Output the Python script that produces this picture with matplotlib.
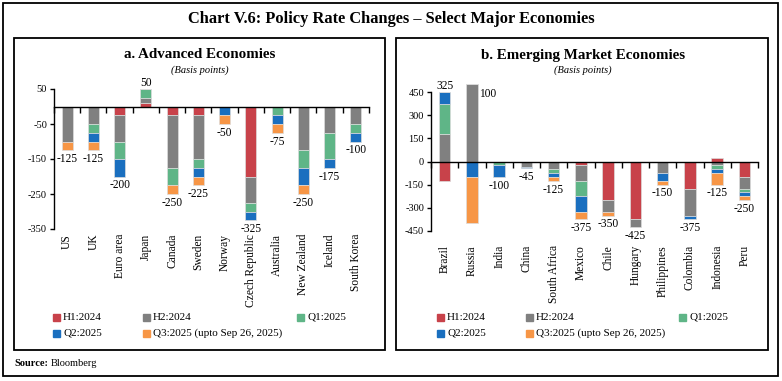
import numpy as np
import matplotlib
matplotlib.use("Agg")
import matplotlib.pyplot as plt
from matplotlib.patches import Rectangle

plt.rcParams['font.family'] = ['Liberation Serif', 'DejaVu Serif']

# ---------------- data ----------------
series_names = ['H1:2024', 'H2:2024', 'Q1:2025', 'Q2:2025', 'Q3:2025 (upto Sep 26, 2025)']
series_colors = ['#C8424A', '#808080', '#5FB587', '#1A6FBF', '#F79646']

adv_countries = ['US', 'UK', 'Euro area', 'Japan', 'Canada', 'Sweden', 'Norway',
                 'Czech Republic', 'Australia', 'New Zealand', 'Iceland', 'South Korea']
adv_h1 = [0, 0, -25, 10, -25, -25, 0, -200, 0, 0, 0, 0]
adv_h2 = [-100, -50, -75, 15, -150, -125, 0, -75, 0, -125, -75, -50]
adv_q1 = [0, -25, -50, 25, -50, -25, 0, -25, -25, -50, -75, -25]
adv_q2 = [0, -25, -50, 0, 0, -25, -25, -25, -25, -50, -25, -25]
adv_q3 = [-25, -25, 0, 0, -25, -25, -25, 0, -25, -25, 0, 0]
adv_yticks = [50, -50, -150, -250, -350]

em_countries = ['Brazil', 'Russia', 'India', 'China', 'South Africa', 'Mexico', 'Chile',
                'Hungary', 'Philippines', 'Colombia', 'Indonesia', 'Peru']
em_h1 = [-125, 0, 0, 0, 0, -25, -250, -375, 0, -175, 25, -100]
em_h2 = [175, 500, 0, -35, -50, -100, -75, -50, -75, -175, -25, -75]
em_q1 = [200, 0, -25, 0, -25, -100, 0, 0, 0, 0, -25, -25]
em_q2 = [75, -100, -75, -10, -25, -100, 0, 0, -50, -25, -25, -25]
em_q3 = [0, -300, 0, 0, -25, -50, -25, 0, -25, 0, -75, -25]
em_yticks = [450, 300, 150, 0, -150, -300, -450]

side_label = {'Russia'}

# ---------------- figure ----------------
W, H = 782, 381
fig = plt.figure(figsize=(W / 100, H / 100), dpi=100)


def fx(px):
    return px / W


def fy(py):
    return 1 - py / H


def frect(x0, y0, x1, y1, lw=1.3):
    fig.patches.append(Rectangle((fx(x0), fy(y1)), fx(x1) - fx(x0), fy(y0) - fy(y1),
                                 transform=fig.transFigure, fill=False,
                                 edgecolor='black', linewidth=lw))


# outer frame & panel boxes
frect(3, 3, 778, 376)
frect(14, 38, 385, 350)
frect(396, 38, 768, 350)

fig.text(fx(391), fy(19), 'Chart V.6: Policy Rate Changes \u2013 Select Major Economies',
         ha='center', va='center', fontsize=11.8, fontweight='bold')
fig.text(fx(14), fy(363), 'Source:', ha='left', va='center', fontsize=7.5, fontweight='bold')
fig.text(fx(51), fy(363), 'Bloomberg', ha='left', va='center', fontsize=7.5)


def panel(rect_px, countries, series, ylim, yticks, title, title_x, label_gap,
          legend_x):
    x0, x1, ytop, ybot = rect_px
    ax = fig.add_axes([fx(x0), fy(ybot), fx(x1) - fx(x0), fy(ytop) - fy(ybot)])
    n = len(countries)
    x = np.arange(n)
    pos = np.zeros(n)
    neg = np.zeros(n)
    for vals, color, name in zip(series, series_colors, series_names):
        v = np.array(vals, dtype=float)
        bottom = np.where(v >= 0, pos, neg)
        ax.bar(x, v, 0.42, bottom=bottom, color=color, edgecolor='#dcdcdc',
               linewidth=0.5, clip_on=False, zorder=2, label=name)
        pos = pos + np.where(v > 0, v, 0)
        neg = neg + np.where(v < 0, v, 0)
    total = pos + neg
    for i in range(n):
        t = int(round(total[i]))
        if countries[i] in side_label:
            ax.annotate(f'{t}', (x[i] + 0.21, pos[i]), xytext=(1, -3),
                        textcoords='offset points', ha='left', va='top', fontsize=8.3,
                        annotation_clip=False)
        elif t >= 0:
            ax.annotate(f'{t}', (x[i], pos[i]), xytext=(0, 0),
                        textcoords='offset points', ha='center', va='bottom', fontsize=8.3,
                        annotation_clip=False)
        else:
            ax.annotate(f'{t}', (x[i], neg[i]), xytext=(0, -2),
                        textcoords='offset points', ha='center', va='top', fontsize=8.3,
                        annotation_clip=False)

    ax.set_xlim(-0.5, n - 0.5)
    ax.set_ylim(*ylim)
    ax.set_yticks(yticks)
    ax.set_yticklabels([str(t) for t in yticks], fontsize=7.5)
    ax.spines['top'].set_visible(False)
    ax.spines['right'].set_visible(False)
    ax.spines['bottom'].set_position(('data', 0))
    ax.spines['bottom'].set_linewidth(1.0)
    ax.spines['left'].set_linewidth(1.0)
    ax.set_xticks(np.arange(-0.5, n, 1.0))
    ax.set_xticklabels([])
    ax.tick_params(axis='x', direction='out', length=4, width=1.0)
    ax.tick_params(axis='y', direction='out', length=3, width=1.0, pad=2)
    ax.patch.set_alpha(0)
    # category labels
    for i, c in enumerate(countries):
        ax.text(i, -label_gap, c, transform=ax.get_xaxis_transform(),
                rotation=90, ha='center', va='top', fontsize=8.3)
    # panel titles
    fig.text(fx(title_x), fy(55), title, ha='center', va='center',
             fontsize=10.8, fontweight='bold')
    fig.text(fx(title_x), fy(70), '(Basis points)', ha='center', va='center',
             fontsize=7.5, style='italic')
    # legend (manual grid: row 1 H1, H2, Q1 ; row 2 Q2, Q3)
    grid = [(0, 0), (1, 0), (2, 0), (0, 1), (1, 1)]
    for (col, row), name, color in zip(grid, series_names, series_colors):
        lx = legend_x[col]
        ly = 317 + row * 16
        fig.patches.append(Rectangle((fx(lx), fy(ly + 3.5)), fx(7), 7 / H,
                                     transform=fig.transFigure, color=color))
        fig.text(fx(lx + 10), fy(ly), name, ha='left', va='center', fontsize=8)
    return ax


panel((54, 369, 89, 229), adv_countries, [adv_h1, adv_h2, adv_q1, adv_q2, adv_q3],
      (-350, 50), adv_yticks, 'a. Advanced Economies', 200, 0.035, (53, 143, 297))
panel((431, 758, 92, 231), em_countries, [em_h1, em_h2, em_q1, em_q2, em_q3],
      (-450, 450), em_yticks, 'b. Emerging Market Economies', 583, 0.10, (437, 526, 679))

fig.savefig('out.png', dpi=100)
